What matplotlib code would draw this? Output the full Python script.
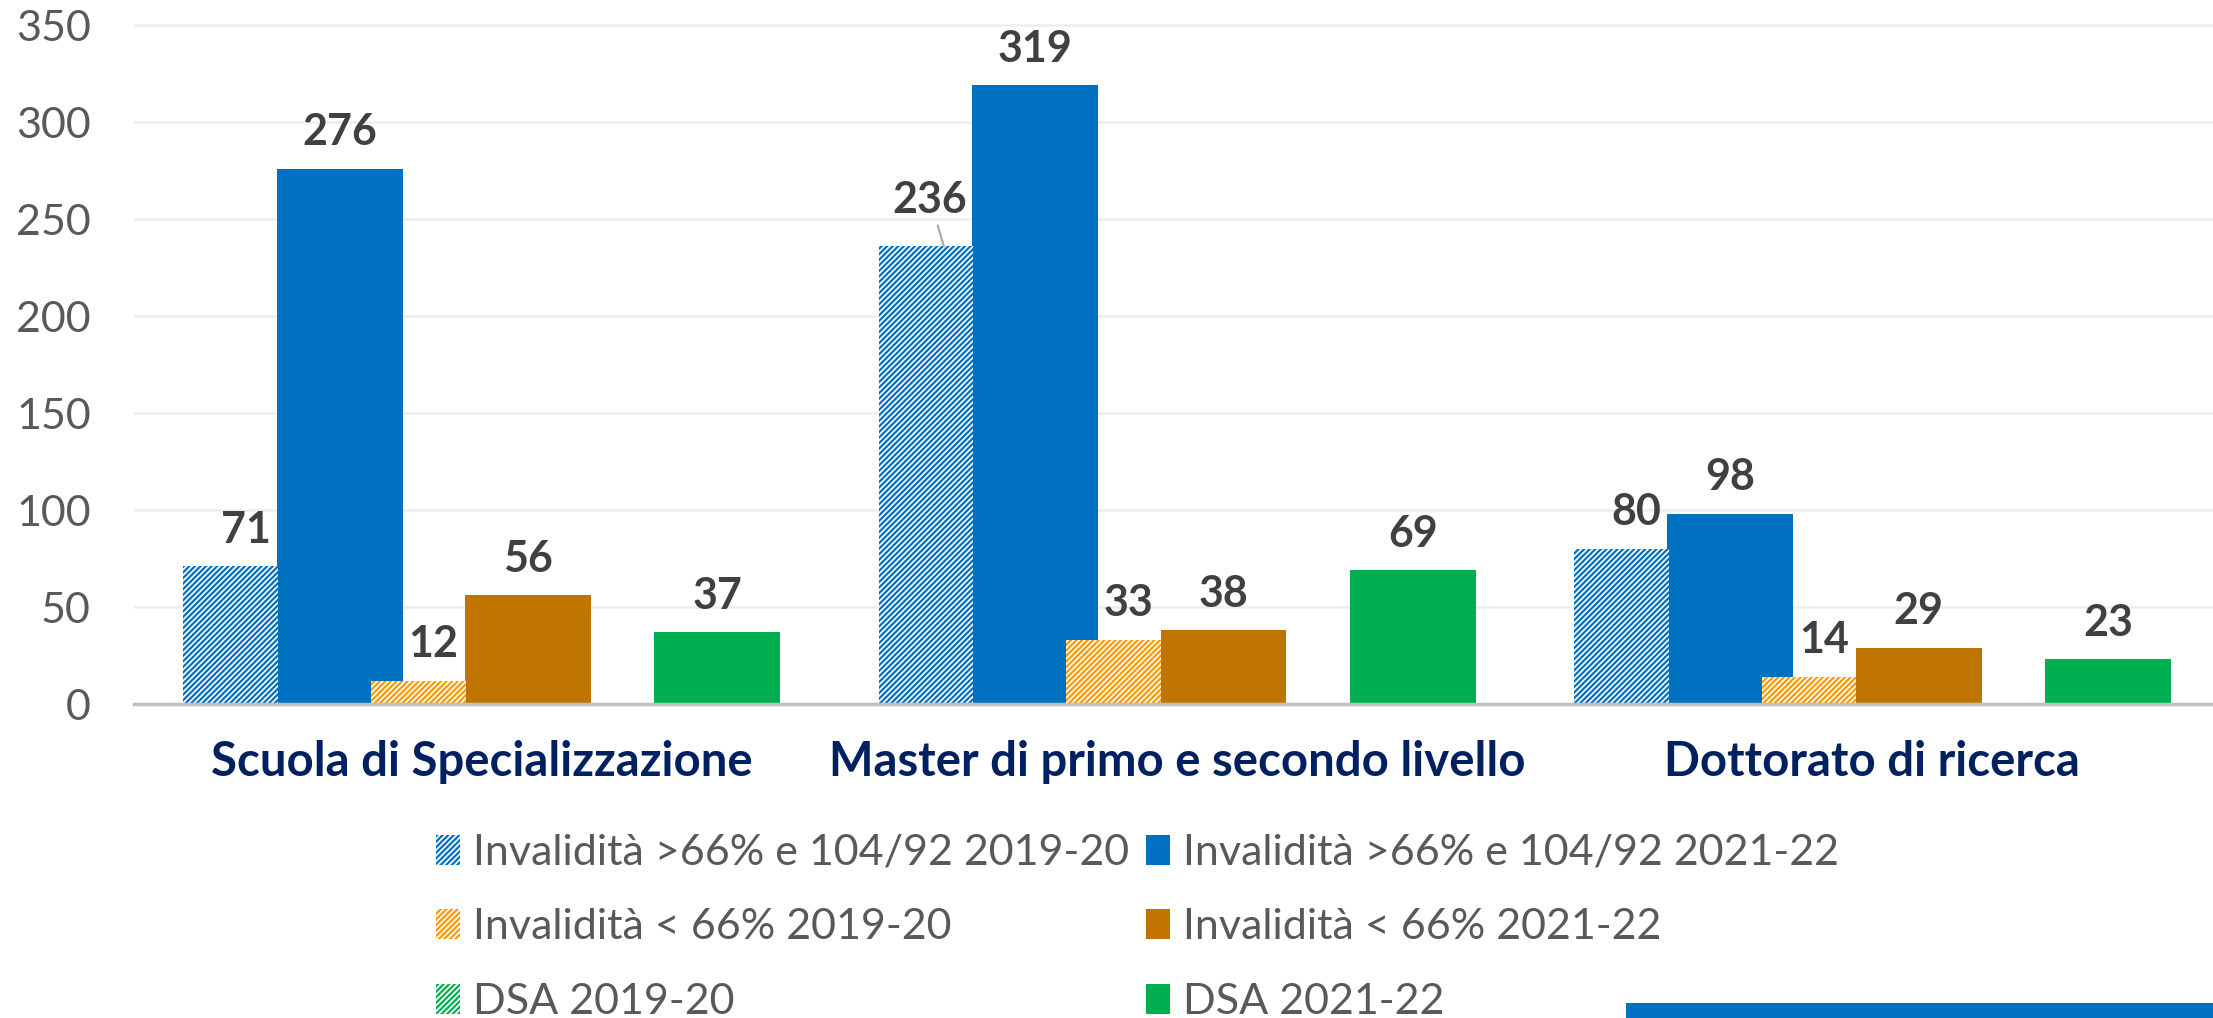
import numpy as np
import matplotlib.pyplot as plt
from matplotlib.patches import Patch, Rectangle

plt.rcParams['font.family'] = ['Lato', 'DejaVu Sans']
plt.rcParams['hatch.linewidth'] = 1.6

# %% Data
categorie = ['Scuola di Specializzazione',
             'Master di primo e secondo livello',
             'Dottorato di ricerca']
inv66_1920 = [71, 236, 80]
inv66_2122 = [276, 319, 98]
inv_lt66_1920 = [12, 33, 14]
inv_lt66_2122 = [56, 38, 29]
dsa_1920 = [np.nan, np.nan, np.nan]   # nessun valore nel grafico
dsa_2122 = [37, 69, 23]
yticks = [0, 50, 100, 150, 200, 250, 300, 350]

nomi_1920 = ['Invalidità >66% e 104/92 2019-20',
             'Invalidità < 66% 2019-20',
             'DSA 2019-20']
nomi_2122 = ['Invalidità >66% e 104/92 2021-22',
             'Invalidità < 66% 2021-22',
             'DSA 2021-22']
col_1920 = ['#0070C0', '#FF9900', '#00B050']
col_2122 = ['#0070C0', '#C07500', '#00B050']

# %% Layout (Excel-like: secondary hatched series overlap the solid ones)
off_1920 = [-0.361, -0.091, 0.180]
off_2122 = [-0.204, 0.067, 0.339]
w_1920 = 0.136
w_2122 = 0.181
tratteggio = '//////'

fig = plt.figure(figsize=(22.13, 10.18), dpi=100)
ax = fig.add_axes([0.0605, 0.3084, 0.9395, 0.6686])
x = np.arange(len(categorie))

lab_kw = dict(fontsize=31, fontweight='bold', color='#404040',
              ha='center', va='baseline', textcoords='offset points')

for vals, off, c in zip([inv66_2122, inv_lt66_2122, dsa_2122], off_2122, col_2122):
    ax.bar(x + off, vals, w_2122, color=c, zorder=2)
    for xi, v in zip(x + off, vals):
        ax.annotate(str(v), (xi, v), xytext=(0, 17), **lab_kw)

for vals, off, c in zip([inv66_1920, inv_lt66_1920, dsa_1920], off_1920, col_1920):
    ax.bar(x + off, vals, w_1920, facecolor='white', edgecolor=c,
           hatch=tratteggio, linewidth=0, zorder=3)
    for xi, v in zip(x + off, vals):
        if np.isnan(v):
            continue
        if v == 236:
            # label moved up-left with a leader line, as in the original
            ax.annotate(str(v), (xi + 0.026, v), xytext=(-10, 24),
                        arrowprops=dict(arrowstyle='-', color='#A6A6A6', lw=1.5,
                                        shrinkA=2, shrinkB=0), **lab_kw)
        else:
            ax.annotate(str(v), (xi, v), xytext=(11, 17), **lab_kw)

# %% Axes styling
ax.set_xlim(-0.5, 2.49)
ax.set_ylim(0, 351)
ax.set_yticks(yticks)
ax.yaxis.grid(True, color='#EDEDED', lw=1.8)
ax.set_axisbelow(True)
for s in ['top', 'right', 'left']:
    ax.spines[s].set_visible(False)
ax.spines['bottom'].set_color('#BFBFBF')
ax.spines['bottom'].set_linewidth(2.5)
ax.spines['bottom'].set_zorder(4)
ax.tick_params(axis='y', length=0, labelsize=31, labelcolor='#595959', pad=31)
ax.set_xticks(x, categorie)
ax.tick_params(axis='x', length=0, pad=26, labelsize=34, labelcolor='#002060')
for t in ax.get_xticklabels():
    t.set_fontweight('bold')

# %% Legend
handles = [Patch(facecolor='white', edgecolor=c, hatch=tratteggio, lw=0, label=n)
           for c, n in zip(col_1920, nomi_1920)]
handles += [Patch(facecolor=c, lw=0, label=n) for c, n in zip(col_2122, nomi_2122)]
fig.legend(handles=handles, ncol=2, loc='upper left', bbox_to_anchor=(0.197, 0.181),
           frameon=False, fontsize=31, labelcolor='#595959', handlelength=0.55,
           handleheight=0.7, handletextpad=0.3, columnspacing=0.4,
           labelspacing=0.85, borderpad=0, borderaxespad=0)

# decorative slide bar at the bottom right
fig.patches.append(Rectangle((0.7348, 0), 0.2652, 0.0147, transform=fig.transFigure,
                             facecolor='#0070C0', edgecolor='none'))

fig.savefig('out.png', dpi=100)
